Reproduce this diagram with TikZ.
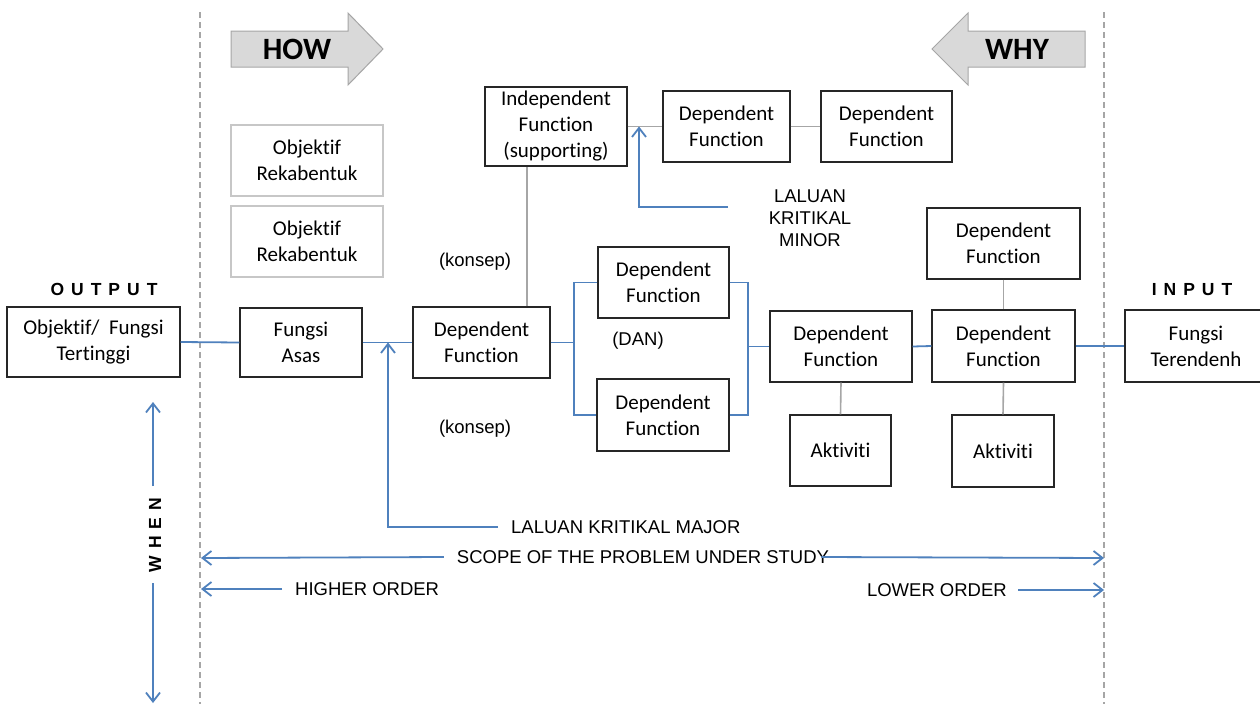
\documentclass[tikz,border=0pt]{standalone}
\usepackage{fontspec}
\setmainfont{Carlito}[Ligatures={NoCommon}]
\newfontfamily\arialf{Liberation Sans}
\newfontfamily\spacedf[LetterSpace=40]{Liberation Sans}
\usetikzlibrary{arrows.meta}
\definecolor{linkblue}{RGB}{79,129,189}
\definecolor{linkgrey}{RGB}{166,166,166}
\definecolor{arrowfill}{RGB}{217,217,217}
\begin{document}
\begin{tikzpicture}[x=1pt,y=-1pt,
  fbox/.style={draw=black!85, line width=1.1pt, fill=white, align=center,
    font=\fontsize{21}{26}\selectfont, inner sep=0pt},
  softbox/.style={fbox, draw=black!22},
  blueline/.style={draw=linkblue, line width=1.8pt},
  greyline/.style={draw=linkgrey, line width=1.6pt},
  barb/.style={-{Straight Barb[length=9pt,width=14pt,line width=1.8pt]}},
  guide/.style={draw=linkgrey, line width=1.2pt, dash pattern=on 6pt off 4pt},
  lbl/.style={font=\arialf\fontsize{18.5}{22}\selectfont, inner sep=0pt, align=center},
  spaced/.style={font=\spacedf\bfseries\fontsize{17.5}{20}\selectfont, inner sep=0pt},
  bigarrow/.style={fill=arrowfill, draw=linkgrey, line width=1pt},
  bigword/.style={font=\bfseries\fontsize{31}{31}\selectfont, inner sep=0pt}
]
\useasboundingbox (0,0) rectangle (1260,704);
\fill[white] (0,0) rectangle (1260,704);

% study boundaries
\draw[guide] (200,12) -- (200,704);
\draw[guide] (1104,12) -- (1104,704);

% HOW / WHY block arrows
\draw[bigarrow] (231,31) -- (348,31) -- (348,13) -- (383,49) -- (348,85) -- (348,67) -- (231,67) -- cycle;
\node[bigword] (how) at (297,49) {HOW};
\draw[bigarrow] (932,49) -- (968,13) -- (968,31) -- (1085,31) -- (1085,67) -- (968,67) -- (968,85) -- cycle;
\node[bigword] (why) at (1017,49) {WHY};

% function boxes
\node[fbox, minimum width=173pt, minimum height=70pt] (top) at (93.5,342) {Objektif/~ Fungsi\\Tertinggi};
\node[fbox, minimum width=122pt, minimum height=69pt] (asas) at (301,342.5) {Fungsi\\Asas};
\node[fbox, minimum width=137pt, minimum height=71pt] (main) at (481.5,342.5) {Dependent\\Function};
\node[fbox, minimum width=142pt, minimum height=79pt] (indep) at (556,126.5) {Independent\\Function\\(supporting)};
\node[fbox, minimum width=127pt, minimum height=71pt] (dtopa) at (726.5,126.5) {Dependent\\Function};
\node[fbox, minimum width=131pt, minimum height=71pt] (dtopb) at (886.5,126.5) {Dependent\\Function};
\node[softbox, minimum width=152pt, minimum height=71pt] (obja) at (307,160.5) {Objektif\\Rekabentuk};
\node[softbox, minimum width=152pt, minimum height=71pt] (objb) at (307,241.5) {Objektif\\Rekabentuk};
\node[fbox, minimum width=131pt, minimum height=71pt] (dup) at (663.5,282.5) {Dependent\\Function};
\node[fbox, minimum width=132pt, minimum height=72pt] (dlow) at (663,415) {Dependent\\Function};
\node[fbox, minimum width=142pt, minimum height=71pt] (dmid) at (841,346.5) {Dependent\\Function};
\node[fbox, minimum width=101pt, minimum height=71pt] (akta) at (840.5,450.5) {Aktiviti};
\node[fbox, minimum width=143pt, minimum height=72pt] (dright) at (1003.5,346) {Dependent\\Function};
\node[fbox, minimum width=153pt, minimum height=71pt] (drtop) at (1003.5,243.5) {Dependent\\Function};
\node[fbox, minimum width=102pt, minimum height=72pt] (aktb) at (1003,451) {Aktiviti};
\node[fbox, minimum width=142pt, minimum height=72pt] (low) at (1196,346) {Fungsi\\Terendenh};

% headings
\node[spaced] (output) at (104,289) {OUTPUT};
\node[spaced] (input) at (1192,290) {INPUT};
\node[spaced, rotate=90] (when) at (155,535) {WHEN};

% labels
\node[lbl] (konsepa) at (475,262) {(konsep)};
\node[lbl] (konsepb) at (475,429) {(konsep)};
\node[lbl] (dan) at (638,341) {(DAN)};
\node[lbl, anchor=west] (majlbl) at (511,527) {LALUAN KRITIKAL MAJOR};
\node[lbl] (minlbl) at (810,218) {LALUAN\\KRITIKAL\\MINOR};
\node[lbl] (scope) at (643,557) {SCOPE OF THE PROBLEM UNDER STUDY};
\node[lbl, anchor=west] (higher) at (295,589) {HIGHER ORDER};
\node[lbl, anchor=east] (lower) at (1007,590) {LOWER ORDER};

% grey links
\draw[greyline] ([xshift=45.5pt]main.north) -- ([xshift=45.5pt]main.north |- indep.south);
\draw[greyline] (indep.east) -- (dtopa.west);
\draw[greyline] (dtopa.east) -- (dtopb.west);
\draw[greyline] (dmid.south) -- (akta.north);
\draw[greyline] (drtop.south) -- (dright.north);
\draw[greyline] (dright.south) -- (aktb.north);

% blue main chain
\coordinate (splitL) at (574,342.5);
\coordinate (joinR) at (748,346.5);
\draw[blueline] (top.east) -- (asas.west);
\draw[blueline] (asas.east) -- (main.west);
\draw[blueline] (main.east) -- (splitL);
\draw[blueline] (dup.west) -| (splitL) |- (dlow.west);
\draw[blueline] (dup.east) -| (joinR) |- (dlow.east);
\draw[blueline] (joinR) -- (dmid.west);
\draw[blueline] (dmid.east) -- (dright.west);
\draw[blueline] (dright.east) -- (low.west);

% critical paths
\coordinate (majtip) at (388,342.5);
\draw[blueline, barb] ([xshift=-13pt]majlbl.west) -| (majtip);
\coordinate (minstart) at (728,207);
\coordinate (mintip) at (639,126.5);
\draw[blueline, barb] (minstart) -| (mintip);

% scope and order arrows
\coordinate (scopeL) at (201,558);
\coordinate (scopeR) at (1104,558);
\draw[blueline, barb] ([xshift=-13pt]scope.west) -- (scopeL);
\draw[blueline, barb] ([xshift=-8pt]scope.east) -- (scopeR);
\coordinate (hiL) at (201,589);
\coordinate (loR) at (1104,590);
\draw[blueline, barb] ([xshift=-13pt]higher.west) -- (hiL);
\draw[blueline, barb] ([xshift=11pt]lower.east) -- (loR);

% WHEN axis
\coordinate (whenA) at (153,486);
\coordinate (whenTop) at (153,402);
\coordinate (whenB) at (153,583);
\coordinate (whenBot) at (153,703);
\draw[blueline, barb] (whenA) -- (whenTop);
\draw[blueline, barb] (whenB) -- (whenBot);
\end{tikzpicture}
\end{document}
